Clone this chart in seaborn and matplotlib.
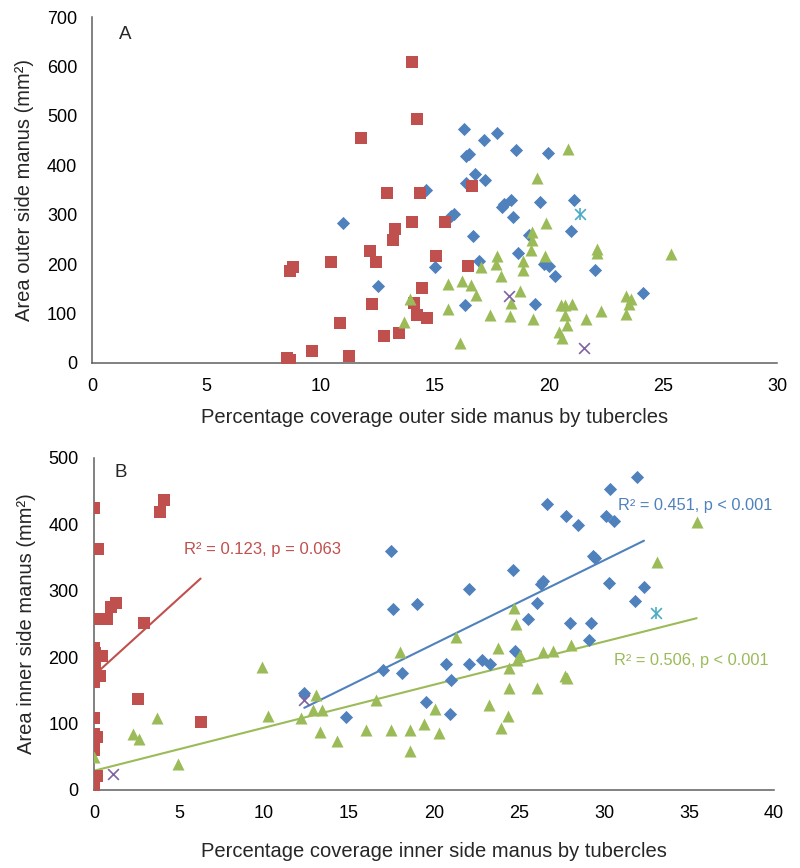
import matplotlib
matplotlib.use("Agg")
import matplotlib.pyplot as plt
import seaborn as sns
import pandas as pd

# ---------------- Panel A data ----------------
a_red_x = [14.02, 14.23, 11.76, 12.91, 14.33, 16.65, 14.01, 15.43, 13.25, 13.19, 12.18, 12.44,
           15.07, 16.46, 14.42, 12.27, 14.11, 14.23, 14.64, 13.45, 12.77, 11.26, 10.45, 10.86,
           8.77, 8.66, 9.6, 8.53, 8.64]
a_red_y = [609, 494, 455, 343, 344, 358, 285, 286, 272, 249, 227, 205,
           216, 196, 151, 119, 121, 97, 92, 60, 55, 14, 205, 81,
           194, 187, 25, 11, 6]

a_blue_x = [10.96, 12.49, 14.62, 15.03, 15.73, 15.86, 16.3, 16.36, 16.49, 16.77, 16.36, 17.22,
            17.17, 17.71, 18.55, 19.97, 16.68, 16.94, 17.96, 18.04, 18.35, 18.41, 19.62, 18.64,
            19.12, 19.78, 19.99, 20.28, 16.33, 19.39, 21.08, 20.95, 22.0, 24.13]
a_blue_y = [284, 156, 350, 194, 298, 302, 474, 418, 422, 383, 365, 370,
            451, 466, 430, 425, 257, 207, 315, 322, 329, 296, 325, 222,
            258, 200, 196, 177, 117, 119, 329, 267, 188, 142]

a_green_x = [19.49, 19.86, 19.28, 19.24, 19.22, 19.81, 17.74, 17.69, 17.02, 17.88, 18.88, 18.88,
             15.56, 16.2, 16.57, 16.8, 13.9, 13.64, 15.56, 16.1, 17.4, 18.28, 18.36, 18.73,
             19.3, 20.85, 22.1, 22.12, 25.35, 23.36, 23.58, 23.49, 23.36, 22.27, 21.62, 20.51,
             20.72, 20.99, 20.7, 20.78, 20.44, 20.56]
a_green_y = [374, 283, 266, 249, 229, 217, 217, 200, 194, 177, 206, 188,
             159, 165, 157, 138, 129, 83, 109, 41, 97, 96, 121, 146,
             90, 433, 230, 222, 220, 136, 129, 119, 99, 106, 90, 117,
             117, 119, 98, 76, 63, 51]

a_purple_x = [18.26, 21.54]
a_purple_y = [136, 31]
a_cyan_x = [21.35]
a_cyan_y = [302]

# ---------------- Panel B data ----------------
b_red_x = [0, 0.25, 4.14, 3.86, 1.29, 0.98, 0.75, 0.45, 0.06, 2.92, 0, 0.06, 0.45, 0, 0.06,
           0.35, 0, 2.6, 0, 6.27, 0, 0.2, 0, 0, 0.2, 0, 0]
b_red_y = [424, 363, 437, 418, 282, 275, 257, 257, 257, 251, 214, 206, 202, 191, 187,
           172, 163, 137, 109, 103, 85, 80, 68, 60, 21, 15, 5]

b_blue_x = [12.37, 14.8, 17.47, 17.6, 19.0, 17.02, 18.1, 19.53, 20.7, 21.0, 20.94, 22.08,
            22.08, 22.8, 23.3, 24.63, 24.76, 26.63, 27.78, 28.47, 30.12, 30.59, 30.35, 31.96,
            29.33, 29.47, 26.29, 26.43, 30.31, 32.35, 31.82, 26.04, 25.55, 27.98, 29.25, 29.1]
b_blue_y = [146, 110, 360, 273, 280, 181, 176, 133, 189, 166, 115, 302,
            189, 196, 189, 332, 209, 431, 413, 399, 412, 405, 454, 471,
            353, 349, 310, 314, 312, 306, 285, 282, 258, 252, 252, 226]

b_green_x = [0, 2.31, 2.66, 3.73, 4.92, 9.86, 10.25, 12.18, 13.06, 12.9, 13.39, 13.31, 14.29,
             16.0, 16.59, 17.49, 18.02, 18.57, 18.61, 19.41, 20.08, 20.29, 21.27, 23.21, 23.78,
             23.94, 24.37, 24.41, 24.43, 24.7, 24.82, 24.86, 25.06, 26.43, 27.02, 28.06, 27.7,
             27.8, 26.04, 33.1, 35.45]
b_green_y = [49, 85, 77, 109, 39, 185, 112, 108, 143, 121, 121, 87, 74,
             91, 135, 90, 208, 90, 59, 100, 122, 86, 231, 128, 214,
             94, 112, 153, 184, 274, 250, 196, 204, 208, 209, 218, 171,
             168, 153, 343, 404]

b_purple_x = [1.14, 12.37]
b_purple_y = [24, 136]
b_cyan_x = [33.06]
b_cyan_y = [266]

labels_b = ["R\u00b2 = 0.123, p = 0.063", "R\u00b2 = 0.451, p < 0.001", "R\u00b2 = 0.506, p < 0.001"]

RED, BLUE, GREEN, PURPLE, CYAN = "#C0504D", "#4F81BD", "#9BBB59", "#8064A2", "#4BACC6"
AXC = "#5f5f5f"

sns.set_style("white")
plt.rcParams["font.family"] = ["Liberation Sans", "DejaVu Sans"]

fig = plt.figure(figsize=(8, 8.68), dpi=100)
axA = fig.add_axes([0.1155, 0.5818, 0.856, 0.3986])
axB = fig.add_axes([0.1175, 0.0899, 0.85, 0.3825])


def scatter(ax, x, y, color, marker, s):
    df = pd.DataFrame({"x": x, "y": y})
    sns.scatterplot(data=df, x="x", y="y", ax=ax, color=color, marker=marker, s=s,
                    linewidth=0, zorder=3, legend=False)


def style(ax, xmax, ymax, ystep):
    ax.set_xlim(0, xmax)
    ax.set_ylim(0, ymax)
    ax.set_xticks(range(0, xmax + 1, 5))
    ax.set_yticks(range(0, ymax + 1, ystep))
    for sp in ["top", "right"]:
        ax.spines[sp].set_visible(False)
    for sp in ["left", "bottom"]:
        ax.spines[sp].set_color(AXC)
        ax.spines[sp].set_linewidth(1.1)
    ax.tick_params(axis="both", direction="out", length=5, width=1.1, color=AXC,
                   labelsize=13, labelcolor="#000000", pad=6)


def markers(ax, bx, by, rx, ry, gx, gy, px, py, cx, cy):
    scatter(ax, bx, by, BLUE, "D", 45)
    scatter(ax, rx, ry, RED, "s", 75)
    scatter(ax, gx, gy, GREEN, "^", 75)
    ax.scatter(px, py, marker="x", color=PURPLE, s=60, linewidths=1.2, zorder=4)
    ax.scatter(cx, cy, marker="x", color=CYAN, s=60, linewidths=1.2, zorder=4)
    ax.scatter(cx, cy, marker="|", color=CYAN, s=80, linewidths=1.2, zorder=4)


# Panel A
markers(axA, a_blue_x, a_blue_y, a_red_x, a_red_y, a_green_x, a_green_y,
        a_purple_x, a_purple_y, a_cyan_x, a_cyan_y)
style(axA, 30, 700, 100)
axA.set_xlabel("Percentage coverage outer side manus by tubercles", fontsize=14.5, labelpad=9)
axA.set_ylabel("Area outer side manus (mm\u00b2)", fontsize=14.5, labelpad=9)
axA.text(1.17, 664, "A", fontsize=13.5, va="center", ha="left")

# Panel B
markers(axB, b_blue_x, b_blue_y, b_red_x, b_red_y, b_green_x, b_green_y,
        b_purple_x, b_purple_y, b_cyan_x, b_cyan_y)
for xs, ys, c in [(b_red_x, b_red_y, RED), (b_blue_x, b_blue_y, BLUE), (b_green_x, b_green_y, GREEN)]:
    sns.regplot(x=xs, y=ys, ax=axB, scatter=False, ci=None, truncate=True,
                line_kws={"color": c, "linewidth": 1.5, "zorder": 2})

style(axB, 40, 500, 100)
axB.set_xlabel("Percentage coverage inner side manus by tubercles", fontsize=14.5, labelpad=14)
axB.set_ylabel("Area inner side manus (mm\u00b2)", fontsize=14.5, labelpad=9)
axB.text(1.18, 478, "B", fontsize=13.5, va="center", ha="left")
axB.text(5.3, 362, labels_b[0], color=RED, fontsize=12, va="center")
axB.text(30.8, 428, labels_b[1], color=BLUE, fontsize=11.8, va="center")
axB.text(30.6, 195, labels_b[2], color=GREEN, fontsize=11.8, va="center")

fig.savefig("out.png", dpi=100)
